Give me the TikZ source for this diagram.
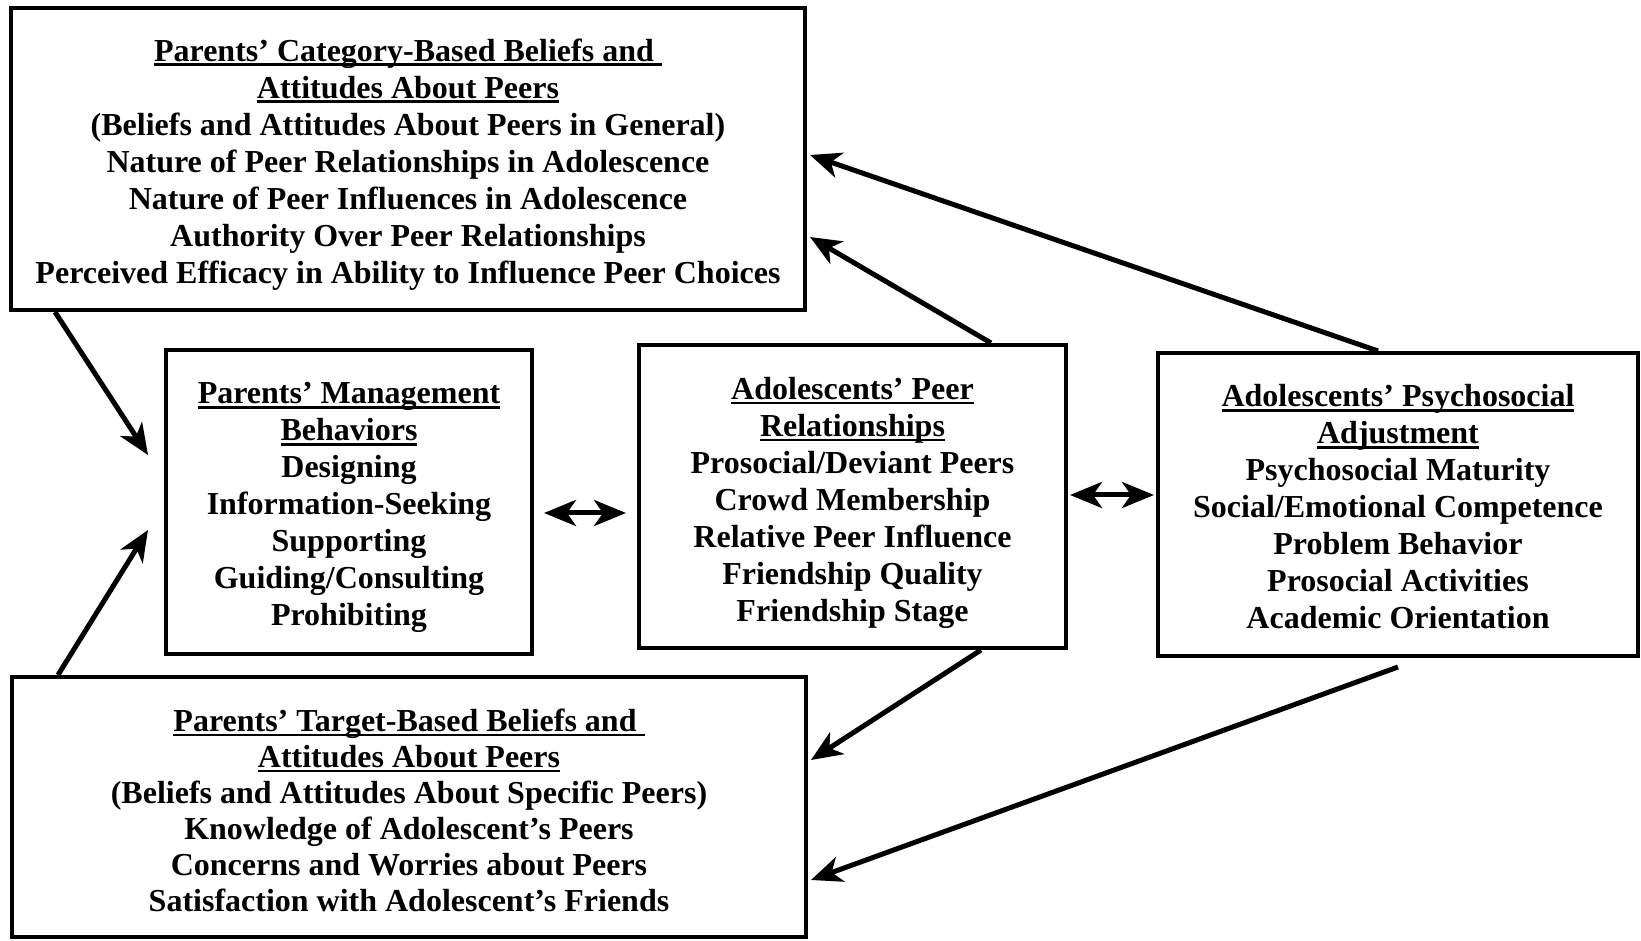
\documentclass[tikz,border=0pt]{standalone}
\usepackage{fontspec}
\setmainfont{Liberation Serif}
\usetikzlibrary{arrows.meta,calc}
\newcommand\myul[1]{\setbox0=\hbox{#1}\rlap{\rule[-5pt]{\wd0}{2.6pt}}\box0}
\begin{document}
\begin{tikzpicture}[x=1pt,y=1pt,
  box/.style={draw, line width=4pt, rectangle, align=center, inner sep=0pt,
    font=\bfseries\fontsize{32}{37}\selectfont},
  arr/.style={line width=5pt, -{Stealth[length=31pt,width=26pt,inset=9pt]}},
  dbl/.style={line width=5pt, {Stealth[length=32pt,width=26pt,inset=9pt]}-{Stealth[length=32pt,width=26pt,inset=9pt]}}]
\useasboundingbox (0,0) rectangle (1641,940);

\node[box, minimum width=794pt, minimum height=302pt] (A) at (408,781) {%
\rule{0pt}{33pt}\myul{Parents’ Category-Based Beliefs and\ }\\
\myul{Attitudes About Peers}\\
(Beliefs and Attitudes About Peers in General)\\
Nature of Peer Relationships in Adolescence\\
Nature of Peer Influences in Adolescence\\
Authority Over Peer Relationships\\
Perceived Efficacy in Ability to Influence Peer Choices};

\node[box, minimum width=366pt, minimum height=304pt] (B) at (349,438) {%
\rule{0pt}{33pt}\myul{Parents’ Management}\\
\myul{Behaviors}\\
Designing\\
Information-Seeking\\
Supporting\\
Guiding/Consulting\\
Prohibiting};

\node[box, minimum width=427pt, minimum height=303pt] (C) at (852.5,443.5) {%
\rule{0pt}{35pt}\myul{Adolescents’ Peer}\\
\myul{Relationships}\\
Prosocial/Deviant Peers\\
Crowd Membership\\
Relative Peer Influence\\
Friendship Quality\\
Friendship Stage};

\node[box, minimum width=480pt, minimum height=303pt] (D) at (1398,435.5) {%
\rule{0pt}{27pt}\myul{Adolescents’ Psychosocial}\\
\myul{Adjustment}\\
Psychosocial Maturity\\
Social/Emotional Competence\\
Problem Behavior\\
Prosocial Activities\\
Academic Orientation};

\node[box, minimum width=794pt, minimum height=260pt,
  font=\bfseries\fontsize{32}{36}\selectfont] (E) at (409,133) {%
\rule{0pt}{29pt}\myul{Parents’ Target-Based Beliefs and\ }\\
\myul{Attitudes About Peers}\\
(Beliefs and Attitudes About Specific Peers)\\
Knowledge of Adolescent’s Peers\\
Concerns and Worries about Peers\\
Satisfaction with Adolescent’s Friends};

% arrows into management behaviors
\draw[arr] ($(A.south west)+(46,0)$) -- ($(B.west)+(-16,47)$);
\draw[arr] ($(E.north west)+(48,0)$) -- ($(B.west)+(-16,-28)$);

% double arrows
\draw[dbl] ($(B.east)+(10,-11)$) -- ($(C.west)+(-11,-16.5)$);
\draw[dbl] ($(C.east)+(2,1.5)$) -- ($(D.west)+(-2,9.5)$);

% arrows into category-based beliefs
\draw[arr] ($(C.north west)+(354,0)$) -- ($(A.east)+(3,-78)$);
\draw[arr] ($(D.north west)+(222,0)$) -- ($(A.east)+(3,4)$);

% arrows into target-based beliefs
\draw[arr] ($(C.south west)+(344,0)$) -- ($(E.east)+(3,47)$);
\draw[arr] ($(D.south west)+(242,-9)$) -- ($(E.east)+(3,-73)$);
\end{tikzpicture}
\end{document}
